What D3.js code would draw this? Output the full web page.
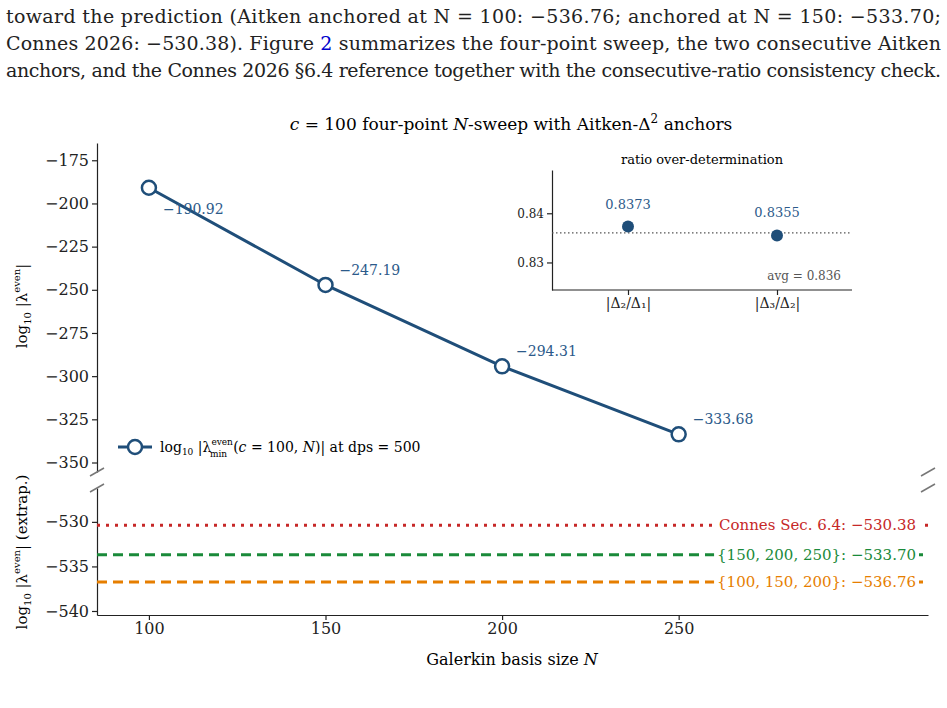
<!DOCTYPE html>
<html><head><meta charset="utf-8">
<script src="https://cdn.jsdelivr.net/npm/d3@7"></script>
<style>body{margin:0;background:#fff}svg{display:block}text{font-family:"DejaVu Serif","Liberation Serif",serif}</style>
</head><body>
<svg id="chart" width="947" height="708"></svg>
<script>
var basisN = [100, 150, 200, 250];
var logLambda = [-190.92, -247.19, -294.31, -333.68];
var ratioLabels = ["|Δ₂/Δ₁|", "|Δ₃/Δ₂|"];
var ratioValues = [0.8373, 0.8355];
var ratioAvg = 0.836;
var anchorNames = ["Connes Sec. 6.4: ", "{150, 200, 250}: ", "{100, 150, 200}: "];
var anchorValues = [-530.38, -533.70, -536.76];
var topTicks = [-175, -200, -225, -250, -275, -300, -325, -350];
var bottomTicks = [-530, -535, -540];
var xTicks = [100, 150, 200, 250];
var insetTicks = [0.83, 0.84];

var svg = d3.select('#chart');
var blue = '#1f4e79', grey = '#777';
var anchorColors = ['#c62828', '#1a8a3a', '#e67e00'];
var anchorDash = ['3,6', '10,6', '10,6'];

// paragraph text
var para = svg.append('g').attr('font-size', 19).attr('fill', '#222');
para.append('text').attr('x', 6).attr('y', 23).attr('textLength', 935).attr('lengthAdjust', 'spacing')
  .text('toward the prediction (Aitken anchored at N = 100: −536.76; anchored at N = 150: −533.70;');
var l2 = para.append('text').attr('x', 6).attr('y', 50).attr('textLength', 935).attr('lengthAdjust', 'spacing');
l2.append('tspan').text('Connes 2026: −530.38).  Figure ');
l2.append('tspan').attr('fill', '#0000cc').text('2');
l2.append('tspan').text(' summarizes the four-point sweep, the two consecutive Aitken');
para.append('text').attr('x', 6).attr('y', 77).attr('textLength', 935).attr('lengthAdjust', 'spacing')
  .text('anchors, and the Connes 2026 §6.4 reference together with the consecutive-ratio consistency check.');

// title
var title = svg.append('text').attr('x', 511).attr('y', 130).attr('text-anchor', 'middle').attr('font-size', 17);
title.append('tspan').attr('font-style', 'italic').text('c');
title.append('tspan').text(' = 100 four-point ');
title.append('tspan').attr('font-style', 'italic').text('N');
title.append('tspan').text('-sweep with Aitken-Δ');
title.append('tspan').attr('dy', -7).attr('font-size', 12).text('2');
title.append('tspan').attr('dy', 7).text(' anchors');

var left = 97, right = 928;
var x = d3.scaleLinear().domain([85.3, 320.6]).range([left, right]);
var yTop = d3.scaleLinear().domain([-165, -355.5]).range([143, 472]);
var yBot = d3.scaleLinear().domain([-526.2, -540.45]).range([488, 615]);

function styleAxis(g) {
  g.attr('font-size', 16).attr('font-family', '"DejaVu Serif",serif');
  g.selectAll('text').attr('fill', '#222');
  g.selectAll('path,line').attr('stroke', '#222').attr('stroke-width', 1.2);
}
function minus(d) { return String(d).replace('-', '−'); }

svg.append('g').attr('transform', 'translate(' + left + ',0)')
  .call(d3.axisLeft(yTop).tickValues(topTicks).tickFormat(minus).tickSize(5).tickSizeOuter(0)).call(styleAxis);
svg.append('g').attr('transform', 'translate(' + left + ',0)')
  .call(d3.axisLeft(yBot).tickValues(bottomTicks).tickFormat(minus).tickSize(5).tickSizeOuter(0)).call(styleAxis);
svg.append('g').attr('transform', 'translate(0,615)')
  .call(d3.axisBottom(x).tickValues(xTicks).tickSize(5).tickSizeOuter(0)).call(styleAxis);

// break marks
[[left, 472], [left, 488], [right, 472], [right, 488]].forEach(function (p) {
  svg.append('line').attr('x1', p[0] - 7).attr('y1', p[1] + 4).attr('x2', p[0] + 7).attr('y2', p[1] - 4)
    .attr('stroke', grey).attr('stroke-width', 1.5);
});

// axis labels
function yLabel(cx, cy, extra) {
  var t = svg.append('text').attr('transform', 'translate(' + cx + ',' + cy + ') rotate(-90)')
    .attr('text-anchor', 'middle').attr('font-size', 15);
  t.append('tspan').text('log');
  t.append('tspan').attr('font-size', 10).attr('dy', 4).text('10');
  t.append('tspan').attr('dy', -4).text(' |λ');
  t.append('tspan').attr('font-size', 10).attr('dy', -7).text('even');
  t.append('tspan').attr('dy', 7).text('|' + extra);
}
yLabel(27, 306, '');
yLabel(27, 552, ' (extrap.)');
var xl = svg.append('text').attr('x', 512).attr('y', 665).attr('text-anchor', 'middle').attr('font-size', 16);
xl.append('tspan').text('Galerkin basis size ');
xl.append('tspan').attr('font-style', 'italic').text('N');

// anchor lines
anchorValues.forEach(function (v, i) {
  var yy = yBot(v);
  svg.append('line').attr('x1', left).attr('x2', right).attr('y1', yy).attr('y2', yy)
    .attr('stroke', anchorColors[i]).attr('stroke-width', 3).attr('stroke-dasharray', anchorDash[i]);
  var t = svg.append('text').attr('x', 916).attr('y', yy + 5).attr('text-anchor', 'end')
    .attr('font-size', 15).attr('fill', anchorColors[i]).text(anchorNames[i] + minus(v.toFixed(2)));
  var bb = t.node().getBBox();
  svg.append('rect').attr('x', bb.x - 3).attr('y', yy - 6).attr('width', bb.width + 6)
    .attr('height', 12).attr('fill', '#fff');
  t.raise();
});

// main series
var pts = basisN.map(function (n, i) { return [n, logLambda[i]]; });
svg.append('path').datum(pts).attr('fill', 'none').attr('stroke', blue).attr('stroke-width', 3)
  .attr('d', d3.line().x(function (d) { return x(d[0]); }).y(function (d) { return yTop(d[1]); }));
svg.selectAll('circle.pt').data(pts).enter().append('circle').attr('class', 'pt')
  .attr('cx', function (d) { return x(d[0]); }).attr('cy', function (d) { return yTop(d[1]); })
  .attr('r', 7).attr('fill', '#fff').attr('stroke', blue).attr('stroke-width', 2.5);
svg.selectAll('text.lab').data(pts).enter().append('text').attr('class', 'lab')
  .attr('x', function (d) { return x(d[0]) + 14; })
  .attr('y', function (d, i) { return yTop(d[1]) + (i === 0 ? 26 : -10); })
  .attr('font-size', 14).attr('fill', '#2c5a8a').text(function (d) { return minus(d[1].toFixed(2)); });

// legend
svg.append('line').attr('x1', 118).attr('x2', 152).attr('y1', 447).attr('y2', 447).attr('stroke', blue).attr('stroke-width', 3);
svg.append('circle').attr('cx', 135).attr('cy', 447).attr('r', 7).attr('fill', '#fff').attr('stroke', blue).attr('stroke-width', 2.5);
var lg = svg.append('text').attr('x', 160).attr('y', 452).attr('font-size', 14);
lg.append('tspan').text('log');
lg.append('tspan').attr('font-size', 9).attr('dy', 3).text('10');
lg.append('tspan').attr('dy', -3).text(' |λ');
lg.append('tspan').attr('font-size', 9).attr('dy', -7).text('even');
lg.append('tspan').attr('font-size', 9).attr('dx', -23).attr('dy', 12).text('min');
lg.append('tspan').attr('dx', 6).attr('dy', -5).text('(');
lg.append('tspan').attr('font-style', 'italic').text('c');
lg.append('tspan').text(' = 100, ');
lg.append('tspan').attr('font-style', 'italic').text('N');
lg.append('tspan').text(')| at dps = 500');

// inset
var ix = d3.scalePoint().domain(ratioLabels).range([628, 777]);
var iy = d3.scaleLinear().domain([0.8244, 0.8488]).range([290, 170]);
var iyAxis = svg.append('g').attr('transform', 'translate(552,0)')
  .call(d3.axisLeft(iy).tickValues(insetTicks).tickFormat(d3.format('.2f')).tickSize(5).tickSizeOuter(0)).call(styleAxis);
iyAxis.attr('font-size', 12);
var ixAxis = svg.append('g').attr('transform', 'translate(0,290)')
  .call(d3.axisBottom(ix).tickSize(5).tickSizeOuter(0)).call(styleAxis);
ixAxis.select('path').attr('d', 'M552,0H852');
ixAxis.attr('font-size', 14);
svg.append('line').attr('x1', 552).attr('x2', 852).attr('y1', iy(ratioAvg)).attr('y2', iy(ratioAvg))
  .attr('stroke', '#555').attr('stroke-width', 1.2).attr('stroke-dasharray', '1.5,2.5');
ratioValues.forEach(function (v, i) {
  svg.append('circle').attr('cx', ix(ratioLabels[i])).attr('cy', iy(v)).attr('r', 6).attr('fill', blue);
  svg.append('text').attr('x', ix(ratioLabels[i])).attr('y', iy(v) - 18).attr('text-anchor', 'middle')
    .attr('font-size', 13).attr('fill', '#2c5a8a').text(v.toFixed(4));
});
svg.append('text').attr('x', 702).attr('y', 164).attr('text-anchor', 'middle').attr('font-size', 13).text('ratio over-determination');
svg.append('text').attr('x', 841).attr('y', 280).attr('text-anchor', 'end').attr('font-size', 12).attr('fill', '#555')
  .text('avg  = ' + ratioAvg.toFixed(3));
</script>
</body></html>
